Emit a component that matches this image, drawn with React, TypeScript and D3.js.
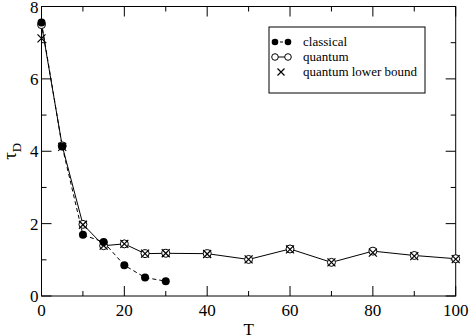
import React from 'react';
import * as d3 from 'd3';

const classicalT = [0, 5, 10, 15, 20, 25, 30];
const classicalTau = [7.56, 4.13, 1.69, 1.49, 0.85, 0.51, 0.41];
const quantumT = [0, 5, 10, 15, 20, 25, 30, 40, 50, 60, 70, 80, 90, 100];
const quantumTau = [7.5, 4.15, 1.98, 1.39, 1.44, 1.17, 1.18, 1.17, 1.01, 1.3, 0.93, 1.24, 1.12, 1.03];
const lowerTau = [7.12, 4.12, 1.97, 1.39, 1.44, 1.17, 1.18, 1.16, 1.01, 1.29, 0.93, 1.2, 1.1, 1.02];
const xTicks = [0, 20, 40, 60, 80, 100];
const yTicks = [0, 2, 4, 6, 8];
const legendLabels = ['classical', 'quantum', 'quantum lower bound'];

const W = 469;
const H = 336;
const margin = { top: 6.5, right: 13.3, bottom: 40, left: 41.5 };
const font = "'Liberation Serif', 'Times New Roman', 'DejaVu Serif', serif";
const txt = { fontFamily: font };

const App = () => {
  const x = d3.scaleLinear().domain([0, 100]).range([margin.left, W - margin.right]);
  const y = d3.scaleLinear().domain([0, 8]).range([H - margin.bottom, margin.top]);
  const x0 = x(0), x1 = x(100), y0 = y(0), y1 = y(8);

  const line = d3.line<[number, number]>().x(d => x(d[0])).y(d => y(d[1]));
  const classical = classicalT.map((t, i) => [t, classicalTau[i]] as [number, number]);
  const quantum = quantumT.map((t, i) => [t, quantumTau[i]] as [number, number]);
  const lower = quantumT.map((t, i) => [t, lowerTau[i]] as [number, number]);

  const xMinor = d3.range(0, 101, 10);
  const yMinor = d3.range(0, 8.01, 1);
  const cross = (cx: number, cy: number, s: number) =>
    `M${cx - s},${cy - s}L${cx + s},${cy + s}M${cx - s},${cy + s}L${cx + s},${cy - s}`;

  const lx = 269, ly = 27;
  return (
    <svg width={W} height={H} style={{ position: 'absolute', left: 0, top: 0, background: '#fff' }}>
      <rect x={0} y={0} width={W} height={H} fill="#fff" />
      {/* frame + ticks */}
      <rect x={x0} y={y1} width={x1 - x0} height={y0 - y1} fill="none" stroke="#000" strokeWidth={1} />
      {xMinor.map(t => {
        const len = t % 20 === 0 ? 10 : 5;
        return (
          <g key={'xt' + t} stroke="#000" strokeWidth={1}>
            <line x1={x(t)} x2={x(t)} y1={y0} y2={y0 - len} />
            <line x1={x(t)} x2={x(t)} y1={y1} y2={y1 + len} />
          </g>
        );
      })}
      {yMinor.map(v => {
        const len = v % 2 === 0 ? 10 : 5;
        return (
          <g key={'yt' + v} stroke="#000" strokeWidth={1}>
            <line x1={x0} x2={x0 + len} y1={y(v)} y2={y(v)} />
            <line x1={x1} x2={x1 - len} y1={y(v)} y2={y(v)} />
          </g>
        );
      })}
      {xTicks.map(t => (
        <text key={'xl' + t} x={x(t)} y={y0 + 20} textAnchor="middle" style={txt} fontSize={17}>{t}</text>
      ))}
      {yTicks.map(v => (
        <text key={'yl' + v} x={x0 - 3} y={Math.max(y(v) + 6, 13)} textAnchor="end" style={txt} fontSize={17}>{v}</text>
      ))}
      <text x={(x0 + x1) / 2} y={H - 1} textAnchor="middle" style={txt} fontSize={17}>T</text>
      <text transform={`translate(16,${(y0 + y1) / 2}) rotate(-90)`} textAnchor="middle" style={txt} fontSize={19}>
        τ<tspan fontSize={13} dy={5}>D</tspan>
      </text>

      {/* series */}
      <path d={line(quantum) ?? ''} fill="none" stroke="#000" strokeWidth={1} />
      <path d={line(classical) ?? ''} fill="none" stroke="#000" strokeWidth={1} strokeDasharray="4,3" />
      {quantum.map((d, i) => (
        <circle key={'q' + i} cx={x(d[0])} cy={y(d[1])} r={4} fill="#fff" stroke="#000" strokeWidth={1} />
      ))}
      {classical.map((d, i) => (
        <circle key={'c' + i} cx={x(d[0])} cy={y(d[1])} r={4} fill="#000" />
      ))}
      {lower.map((d, i) => (
        <path key={'l' + i} d={cross(x(d[0]), y(d[1]), 4)} stroke="#000" strokeWidth={1.2} fill="none" />
      ))}

      {/* legend */}
      <rect x={lx} y={ly} width={156} height={66} fill="#fff" stroke="#000" strokeWidth={1} />
      <line x1={lx + 6} x2={lx + 19} y1={ly + 15} y2={ly + 15} stroke="#000" strokeDasharray="3,2" />
      <circle cx={lx + 6} cy={ly + 15} r={3.3} fill="#000" />
      <circle cx={lx + 19} cy={ly + 15} r={3.3} fill="#000" />
      <line x1={lx + 6} x2={lx + 19} y1={ly + 30} y2={ly + 30} stroke="#000" />
      <circle cx={lx + 6} cy={ly + 30} r={3.3} fill="#fff" stroke="#000" />
      <circle cx={lx + 19} cy={ly + 30} r={3.3} fill="#fff" stroke="#000" />
      <path d={cross(lx + 12, ly + 45, 3.5)} stroke="#000" strokeWidth={1.2} />
      {legendLabels.map((s, i) => (
        <text key={s} x={lx + 34} y={ly + 19 + i * 15} style={txt} fontSize={13}>{s}</text>
      ))}
    </svg>
  );
};

export default App;
